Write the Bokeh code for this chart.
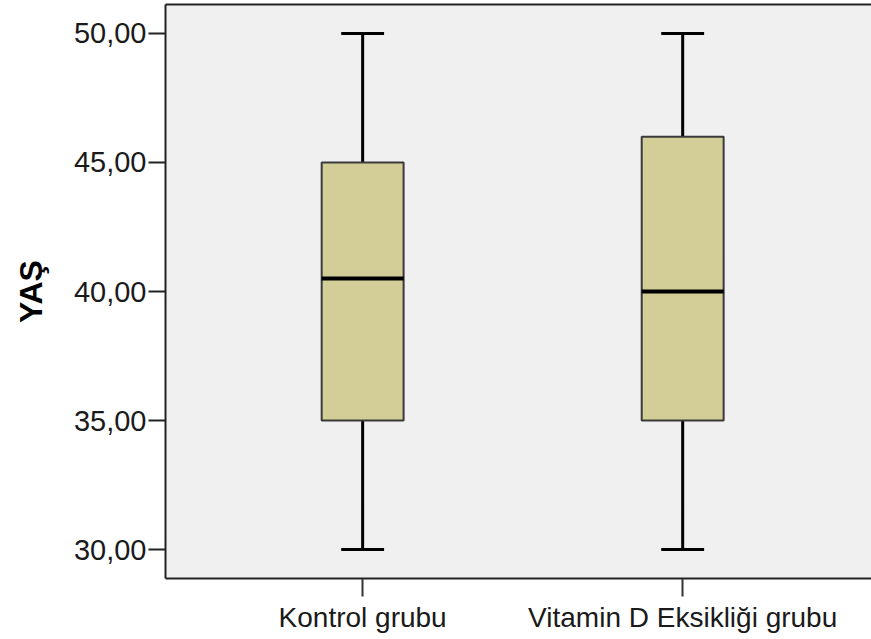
from bokeh.plotting import figure
from bokeh.models import Range1d, FixedTicker, LinearAxis, ColumnDataSource
from bokeh.embed import file_html
from bokeh.resources import INLINE

# Data
groups = ["Kontrol grubu", "Vitamin D Eksikliği grubu"]
mins = [30.0, 30.0]
q1s = [35.0, 35.0]
medians = [40.5, 40.0]
q3s = [45.0, 46.0]
maxs = [50.0, 50.0]
y_ticks = [30, 35, 40, 45, 50]
y_tick_labels = ["30,00", "35,00", "40,00", "45,00", "50,00"]
y_label = "YAŞ"

xs = [i + 1 for i in range(len(groups))]
box_w = 0.256
cap_hw = 0.067

src = ColumnDataSource(dict(
    x=xs, mn=mins, q1=q1s, med=medians, q3=q3s, mx=maxs,
    xl=[x - box_w / 2 for x in xs], xr=[x + box_w / 2 for x in xs],
    cl=[x - cap_hw for x in xs], cr=[x + cap_hw for x in xs],
))

p = figure(width=871, height=639, output_backend="svg", toolbar_location=None,
           x_range=Range1d(0.384, 2.59), y_range=Range1d(28.88, 51.12),
           min_border_left=165, min_border_right=0, min_border_top=4, min_border_bottom=61)

p.background_fill_color = "#f0f0f0"
p.border_fill_color = "white"
p.outline_line_color = None
p.xgrid.visible = False
p.ygrid.visible = False

# whiskers
p.segment(x0="x", y0="q3", x1="x", y1="mx", source=src, line_color="black", line_width=3)
p.segment(x0="x", y0="q1", x1="x", y1="mn", source=src, line_color="black", line_width=3)
p.segment(x0="cl", y0="mx", x1="cr", y1="mx", source=src, line_color="black", line_width=3)
p.segment(x0="cl", y0="mn", x1="cr", y1="mn", source=src, line_color="black", line_width=3)
# boxes
p.quad(left="xl", right="xr", bottom="q1", top="q3", source=src,
       fill_color="#d3ce97", line_color="#3a3a3a", line_width=2)
# medians
p.segment(x0="xl", y0="med", x1="xr", y1="med", source=src, line_color="black", line_width=4)

# y axis
ya = p.yaxis[0]
ya.ticker = FixedTicker(ticks=y_ticks)
ya.major_label_overrides = {t: l for t, l in zip(y_ticks, y_tick_labels)}
ya.minor_tick_line_color = None
ya.major_tick_in = 0
ya.major_tick_out = 17
ya.major_tick_line_width = 2
ya.major_tick_line_color = "#222222"
ya.axis_line_color = "#222222"
ya.axis_line_width = 2
ya.major_label_standoff = 2
ya.major_label_text_font = "Liberation Sans"
ya.major_label_text_font_size = "29px"
ya.major_label_text_color = "#1a1a1a"
ya.axis_label = y_label
ya.axis_label_text_font = "Liberation Sans"
ya.axis_label_text_font_style = "bold"
ya.axis_label_text_font_size = "32px"
ya.axis_label_text_color = "black"
ya.axis_label_standoff = 22

# x axis
xa = p.xaxis[0]
xa.ticker = FixedTicker(ticks=xs)
xa.major_label_overrides = {x: g for x, g in zip(xs, groups)}
xa.minor_tick_line_color = None
xa.major_tick_in = 0
xa.major_tick_out = 18
xa.major_tick_line_width = 2
xa.major_tick_line_color = "#333333"
xa.axis_line_color = "#222222"
xa.axis_line_width = 2
xa.major_label_standoff = 5
xa.major_label_text_font = "Liberation Sans"
xa.major_label_text_font_size = "28px"
xa.major_label_text_color = "#1a1a1a"

# top border
top = LinearAxis(ticker=FixedTicker(ticks=[]), axis_line_color="#222222", axis_line_width=2,
                 major_tick_line_color=None, minor_tick_line_color=None,
                 major_label_text_font_size="0px")
p.add_layout(top, "above")

open("out.html", "w").write(file_html(p, INLINE))
